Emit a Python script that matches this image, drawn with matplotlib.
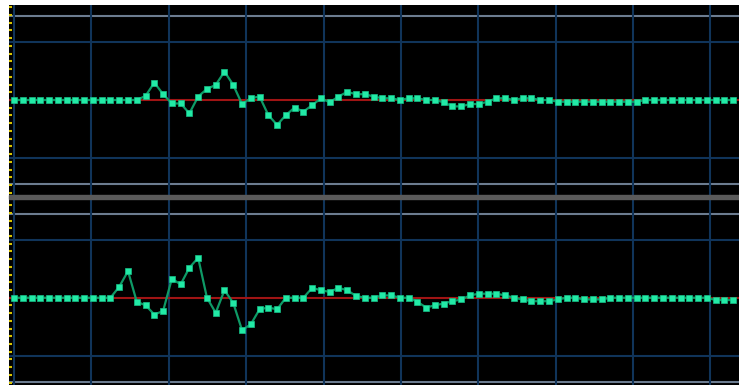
import numpy as np
import matplotlib
matplotlib.use('Agg')
import matplotlib.pyplot as plt
from matplotlib.patches import Rectangle
from matplotlib.ticker import MultipleLocator

# значения двух каналов (единица = одна клетка сетки)
top_values = [0.0] * 15 + [
    0.07, 0.30, 0.10, -0.06, -0.06, -0.23, 0.06, 0.19, 0.26, 0.49,
    0.26, -0.07, 0.03, 0.06, -0.26, -0.43, -0.26, -0.13, -0.20, -0.09,
    0.03, -0.04, 0.06, 0.14, 0.10, 0.10, 0.06, 0.03, 0.03, 0.0,
    0.03, 0.03, 0.0, 0.0, -0.04, -0.11, -0.11, -0.07, -0.07, -0.03,
    0.03, 0.03, 0.0, 0.03, 0.03, 0.0, 0.0] + [-0.03] * 10 + [0.0] * 11

bottom_values = [0.0] * 12 + [
    0.19, 0.46, -0.07, -0.13, -0.29, -0.23, 0.33, 0.23, 0.52, 0.69,
    0.0, -0.26, 0.13, -0.09, -0.56, -0.46, -0.20, -0.17, -0.20, 0.0,
    0.0, 0.0, 0.17, 0.13, 0.10, 0.17, 0.13, 0.03, 0.0, 0.0,
    0.04, 0.04, 0.0, 0.0, -0.07, -0.17, -0.13, -0.10, -0.06, -0.03,
    0.04, 0.07, 0.07, 0.07, 0.04, 0.0, -0.03, -0.06, -0.06, -0.06,
    -0.03, 0.0, 0.0, -0.03, -0.03, -0.03] + [0.0] * 12 + [-0.04] * 3

W, H = 739, 385
fig = plt.figure(figsize=(W / 100, H / 100), dpi=100, facecolor='white')


def px_axes(x0, y0, x1, y1):
    # оси в пиксельных координатах картинки
    return fig.add_axes([x0 / W, 1 - y1 / H, (x1 - x0) / W, (y1 - y0) / H])


# серая полоса между панелями
fig.patches.append(Rectangle((9 / W, 1 - 199 / H), 730 / W, 4 / H,
                             transform=fig.transFigure, color='#5a5a5a'))

step = 8.77          # пикселей на отсчёт
x0_px = 14 - 9       # первый отсчёт от левого края осей


def draw_panel(ax, values, ylim):
    x = np.arange(len(values))
    ax.set_facecolor('black')
    for s in ax.spines.values():
        s.set_visible(False)
    ax.set_xlim(-x0_px / step, -x0_px / step + 730 / step)
    ax.set_ylim(ylim)

    # вертикальная сетка
    ax.xaxis.set_major_locator(MultipleLocator(8.824))
    ax.grid(axis='x', color='#10345a', linewidth=1.5)
    ax.tick_params(axis='x', length=0, labelbottom=False)

    # жёлтые засечки слева
    ax.yaxis.set_major_locator(MultipleLocator(2 / 15))
    ax.tick_params(axis='y', direction='in', length=2.3, width=1.5,
                   color='#d8c400', labelleft=False)

    for lvl in (1, -1):
        ax.axhline(lvl, color='#10345a', linewidth=1.5, zorder=1)
    for lvl in (1.45, -1.45):
        ax.axhline(lvl, color='#6c7c90', linewidth=1.5, zorder=1)

    ax.axhline(0, color='#a01414', linewidth=1.5, zorder=2)
    ax.plot(x, values, color='#0e9a66', linewidth=1.6, zorder=3,
            marker='s', markersize=4.2, markerfacecolor='#22eaa6',
            markeredgecolor='#16c088', markeredgewidth=0.5)


ax_top = px_axes(9, 5, 739, 195)
draw_panel(ax_top, top_values, (-95 / 58, 95 / 58))

ax_bot = px_axes(9, 199, 739, 385)
draw_panel(ax_bot, bottom_values, (-87.5 / 58, 99 / 58))

plt.savefig('out.png', dpi=100, facecolor='white')
